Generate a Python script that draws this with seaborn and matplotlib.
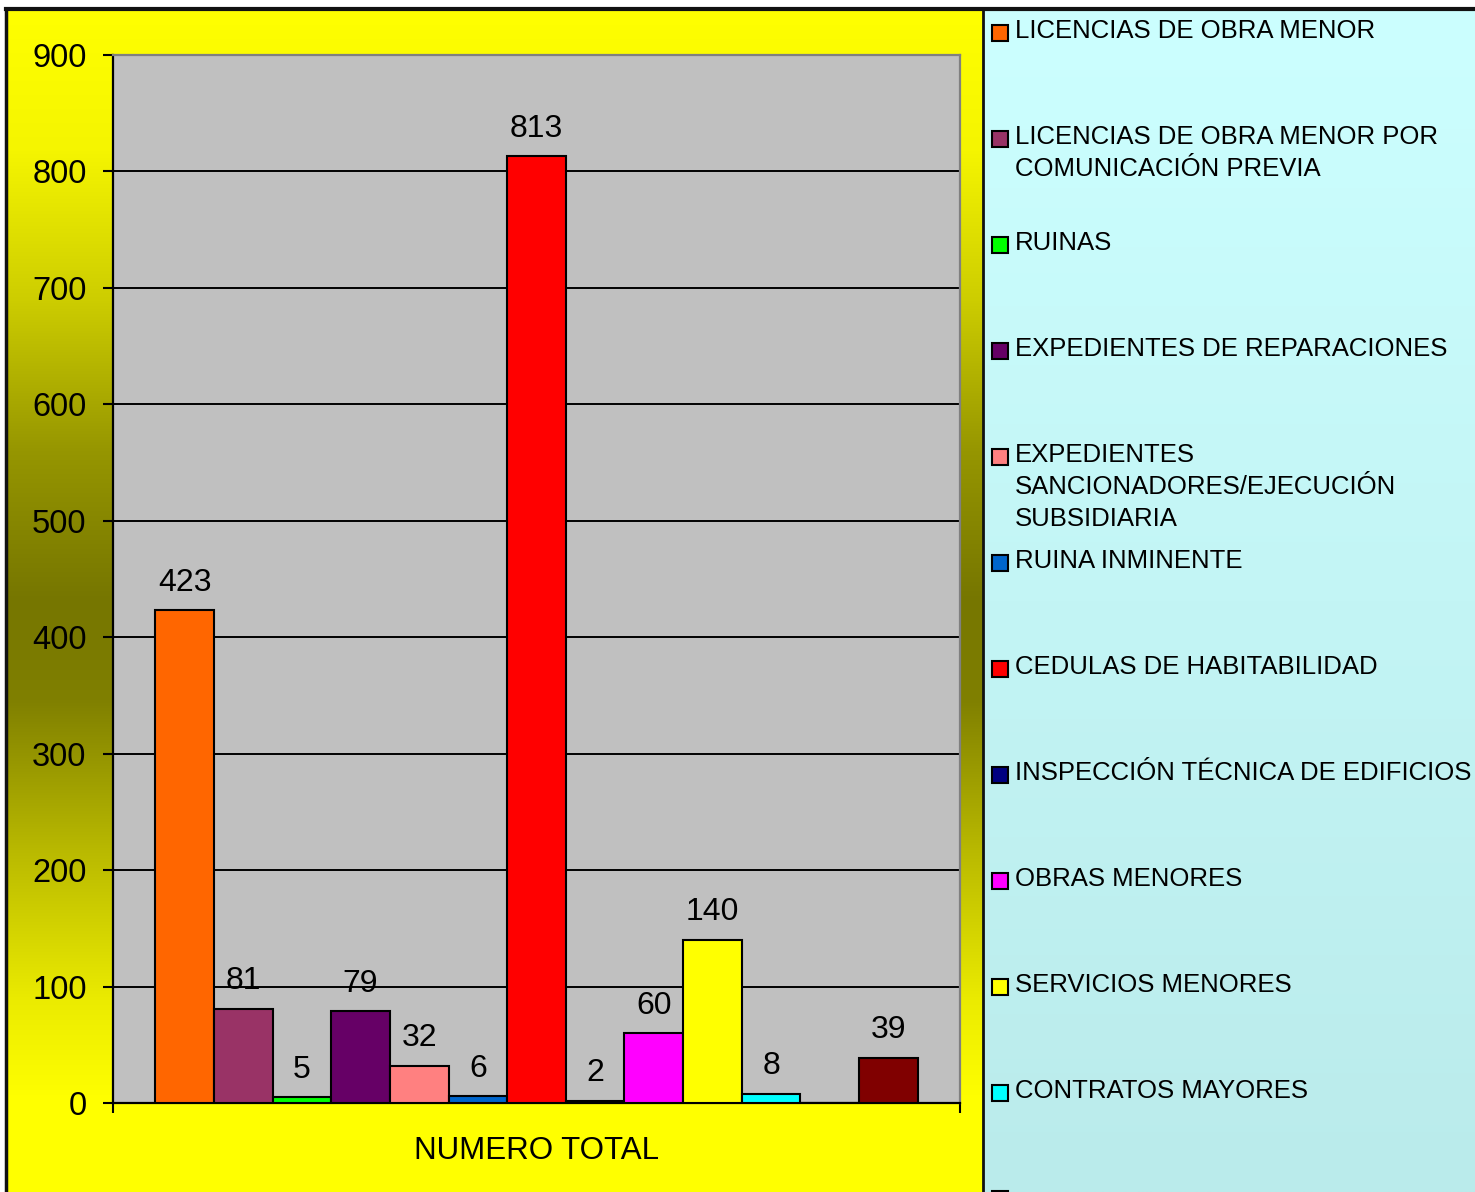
import numpy as np
import pandas as pd
import matplotlib
matplotlib.use('Agg')
import matplotlib.pyplot as plt
from matplotlib.lines import Line2D
from matplotlib.patches import Rectangle
import seaborn as sns

# ── Datos ──────────────────────────────────────────────────────
CATEGORIAS = [
    'LICENCIAS DE OBRA MENOR',
    'LICENCIAS DE OBRA MENOR POR\nCOMUNICACIÓN PREVIA',
    'RUINAS',
    'EXPEDIENTES DE REPARACIONES',
    'EXPEDIENTES\nSANCIONADORES/EJECUCIÓN\nSUBSIDIARIA',
    'RUINA INMINENTE',
    'CEDULAS DE HABITABILIDAD',
    'INSPECCIÓN TÉCNICA DE EDIFICIOS',
    'OBRAS MENORES',
    'SERVICIOS MENORES',
    'CONTRATOS MAYORES',
    'OTROS (no visible)',
    'OTROS 2 (no visible)',
]
VALORES = [423, 81, 5, 79, 32, 6, 813, 2, 60, 140, 8, 0, 39]
ETIQUETAS = ['423', '81', '5', '79', '32', '6', '813', '2', '60', '140', '8', '', '39']
COLORES = ['#FF6600', '#993366', '#00FF00', '#660066', '#FF8080', '#0066CC',
           '#FF0000', '#000080', '#FF00FF', '#FFFF00', '#00FFFF', '#333333',
           '#800000']
GRUPO = 'NUMERO TOTAL'
Y_TICKS = list(range(0, 901, 100))

df = pd.DataFrame({'grupo': GRUPO, 'tipo': CATEGORIAS, 'valor': VALORES})

W, H = 1475, 1192
plt.rcParams['font.family'] = ['Liberation Sans', 'DejaVu Sans']

fig = plt.figure(figsize=(W / 100, H / 100), dpi=100)
fig.patch.set_facecolor('white')


def px(x, y):
    return x / W, 1 - y / H


# ── Fondo degradado amarillo (zona del gráfico) ────────────────
ys = np.arange(10, H)
lvl = np.interp(ys, [10, 150, 300, 450, 600, 700, 850, 1000, 1100, 1192],
                [255, 245, 205, 150, 118, 128, 185, 235, 255, 255]) / 255
grad = np.zeros((len(ys), 1, 3))
grad[:, 0, 0] = lvl
grad[:, 0, 1] = lvl
bg = fig.add_axes([6 / W, 0, (983 - 6) / W, (H - 10) / H], zorder=0)
bg.imshow(grad, aspect='auto', extent=[0, 1, 0, 1])
bg.axis('off')

# ── Fondo degradado cian (leyenda) ─────────────────────────────
c_top = np.array([204, 255, 255]) / 255
c_bot = np.array([186, 235, 235]) / 255
t = np.linspace(0, 1, 400)[:, None]
grad2 = (c_top * (1 - t) + c_bot * t)[:, None, :]
bg2 = fig.add_axes([983 / W, 0, (W - 983) / W, (H - 10) / H], zorder=0)
bg2.imshow(grad2, aspect='auto', extent=[0, 1, 0, 1])
bg2.axis('off')

# ── Gráfico de barras ──────────────────────────────────────────
ax = fig.add_axes([113 / W, (H - 1103) / H, (960 - 113) / W, (1103 - 55) / H], zorder=2)
ax.set_facecolor('#C0C0C0')
sns.barplot(data=df, x='grupo', y='valor', hue='tipo', hue_order=CATEGORIAS,
            palette=dict(zip(CATEGORIAS, COLORES)), width=0.9, legend=False,
            saturation=1, edgecolor='black', linewidth=1.5, ax=ax, zorder=3)

for cont, lab in zip(ax.containers, ETIQUETAS):
    ax.bar_label(cont, labels=[lab], padding=9, fontsize=23, color='black')

ax.set_xlim(-0.5, 0.5)
ax.set_ylim(0, 900)
ax.set_yticks(Y_TICKS)
ax.set_xticks([0], [GRUPO])
ax.set_xticks([-0.5, 0.5], minor=True)
ax.tick_params(axis='x', which='major', length=0, labelsize=22.5, pad=24)
ax.tick_params(axis='x', which='minor', length=7, width=1.5, direction='out')
ax.tick_params(axis='y', length=7, width=1.5, direction='out', labelsize=23.5, pad=12)
ax.set_xlabel('')
ax.set_ylabel('')
ax.set_axisbelow(True)
ax.yaxis.grid(True, color='black', linewidth=1.4)
ax.xaxis.grid(False)
for s in ['left', 'bottom']:
    ax.spines[s].set_color('black')
    ax.spines[s].set_linewidth(1.6)
for s in ['top', 'right']:
    ax.spines[s].set_color('#808080')
    ax.spines[s].set_linewidth(1.6)

# ── Leyenda manual ─────────────────────────────────────────────
for i, (nombre, color) in enumerate(zip(CATEGORIAS, COLORES)):
    top = 25 + 106 * i
    x0, y0 = px(992, top + 16)
    fig.add_artist(Rectangle((x0, y0), 16 / W, 16 / H, transform=fig.transFigure,
                             facecolor=color, edgecolor='black', linewidth=1.5, zorder=5))
    if i < 11:
        for j, linea in enumerate(nombre.split('\n')):
            tx, ty = px(1015, 38 + 106 * i + 32 * j)
            fig.text(tx, ty, linea, fontsize=18.5, va='baseline', ha='left', zorder=5)

# ── Marcos ─────────────────────────────────────────────────────
for (xa, ya), (xb, yb), lw in [((6, 9), (W, 9), 3), ((6, 9), (6, H), 2.5),
                               ((983, 9), (983, H), 2)]:
    p1, p2 = px(xa, ya), px(xb, yb)
    fig.add_artist(Line2D([p1[0], p2[0]], [p1[1], p2[1]], transform=fig.transFigure,
                          color='#111111', linewidth=lw, zorder=6))

fig.savefig('out.png', dpi=100)
